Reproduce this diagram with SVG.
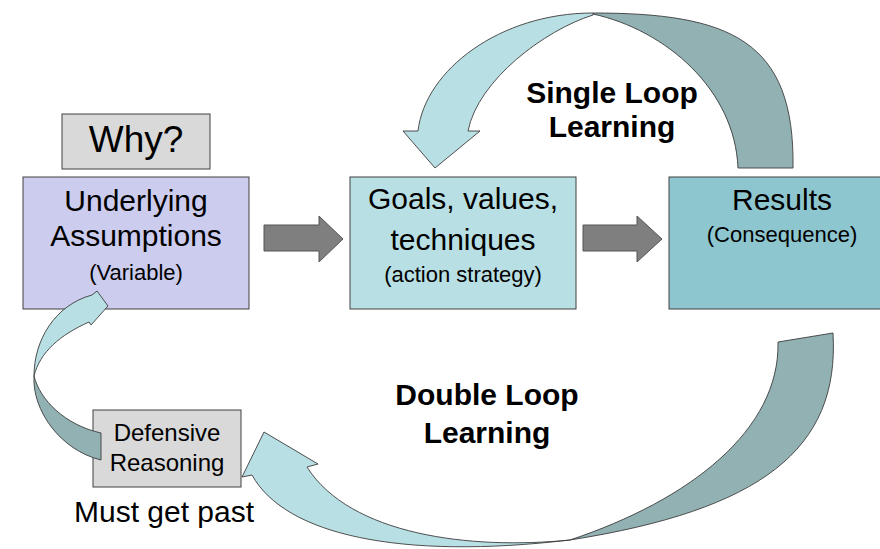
<svg xmlns="http://www.w3.org/2000/svg" width="880" height="549" viewBox="0 0 880 549">
<style>
text{font-family:"Liberation Sans",Arial,sans-serif;fill:#000;text-anchor:middle}
.box{stroke:#404040;stroke-width:1}
.big{font-size:30px}
.small{font-size:22px}
.bold{font-size:30px;font-weight:bold}
.gray{fill:#7f7f7f;stroke:#555;stroke-width:1}
.light{fill:#b8dfe3;stroke:#3c3c3c;stroke-width:0.9}
.dark{fill:#91b1b3;stroke:#3c3c3c;stroke-width:0.9}
</style>
<rect width="880" height="549" fill="#fff"/>
<g id="why">
<rect class="box" x="62" y="114" width="148" height="55" fill="#d9d9d9"/>
<text x="136" y="152" style="font-size:37px">Why?</text>
</g>
<g id="assumptions">
<rect class="box" x="23" y="177" width="226" height="132" fill="#ccccee"/>
<text class="big" x="136" y="211">Underlying</text>
<text class="big" x="136" y="246">Assumptions</text>
<text class="small" x="136" y="280">(Variable)</text>
</g>
<g id="goals">
<rect class="box" x="350" y="177" width="226" height="132" fill="#b8dfe3"/>
<text class="big" x="463" y="209">Goals, values,</text>
<text class="big" x="463" y="250">techniques</text>
<text class="small" x="463" y="282">(action strategy)</text>
</g>
<g id="results">
<rect class="box" x="669" y="177" width="230" height="132" fill="#8ec6cf"/>
<text class="big" x="782" y="210">Results</text>
<text class="small" x="782" y="242">(Consequence)</text>
</g>
<g id="defensive">
<rect class="box" x="93" y="410" width="148" height="77" fill="#d9d9d9"/>
<text x="167" y="441" style="font-size:24px">Defensive</text>
<text x="167" y="471" style="font-size:24px">Reasoning</text>
</g>
<g id="labels">
<text class="big" x="164" y="522">Must get past</text>
<text class="bold" x="612" y="103">Single Loop</text>
<text class="bold" x="612" y="137">Learning</text>
<text class="bold" x="487" y="405">Double Loop</text>
<text class="bold" x="487" y="443">Learning</text>
</g>
<g id="connectors">
<path class="gray" d="M264,225 H319 V216 L343,239 L319,262 V251 H264 Z"/>
<path class="gray" d="M583,225 H637 V216 L662,239 L637,262 V251 H583 Z"/>
<path class="dark" d="M593,14 C666,30 735,90 738,168 L793,168 C795,40 730,13 593,13 Z"/>
<path class="light" d="M593,13 C500,13 425,70 418,131 L403,131 L435,168 L480,131 L468,131 C478,80 545,30 593,15 Z"/>
<path class="dark" d="M570,540 C690,500 780,430 778,342 L833,333 C840,450 760,510 570,540 Z"/>
<path class="light" d="M570,540 C470,550 350,535 307,467 L318,464 L264,432 L242,477 L252,475 C285,535 400,560 570,540 Z"/>
<path class="dark" d="M34,376 C32,410 60,450 101,460 L101,433 C65,425 40,400 34,376 Z"/>
<path class="light" d="M34,376 C34,340 55,305 92,295 L97,291 L108,306 L91,325 L89,322 C60,335 40,352 34,376 Z"/>
</g>
</svg>
